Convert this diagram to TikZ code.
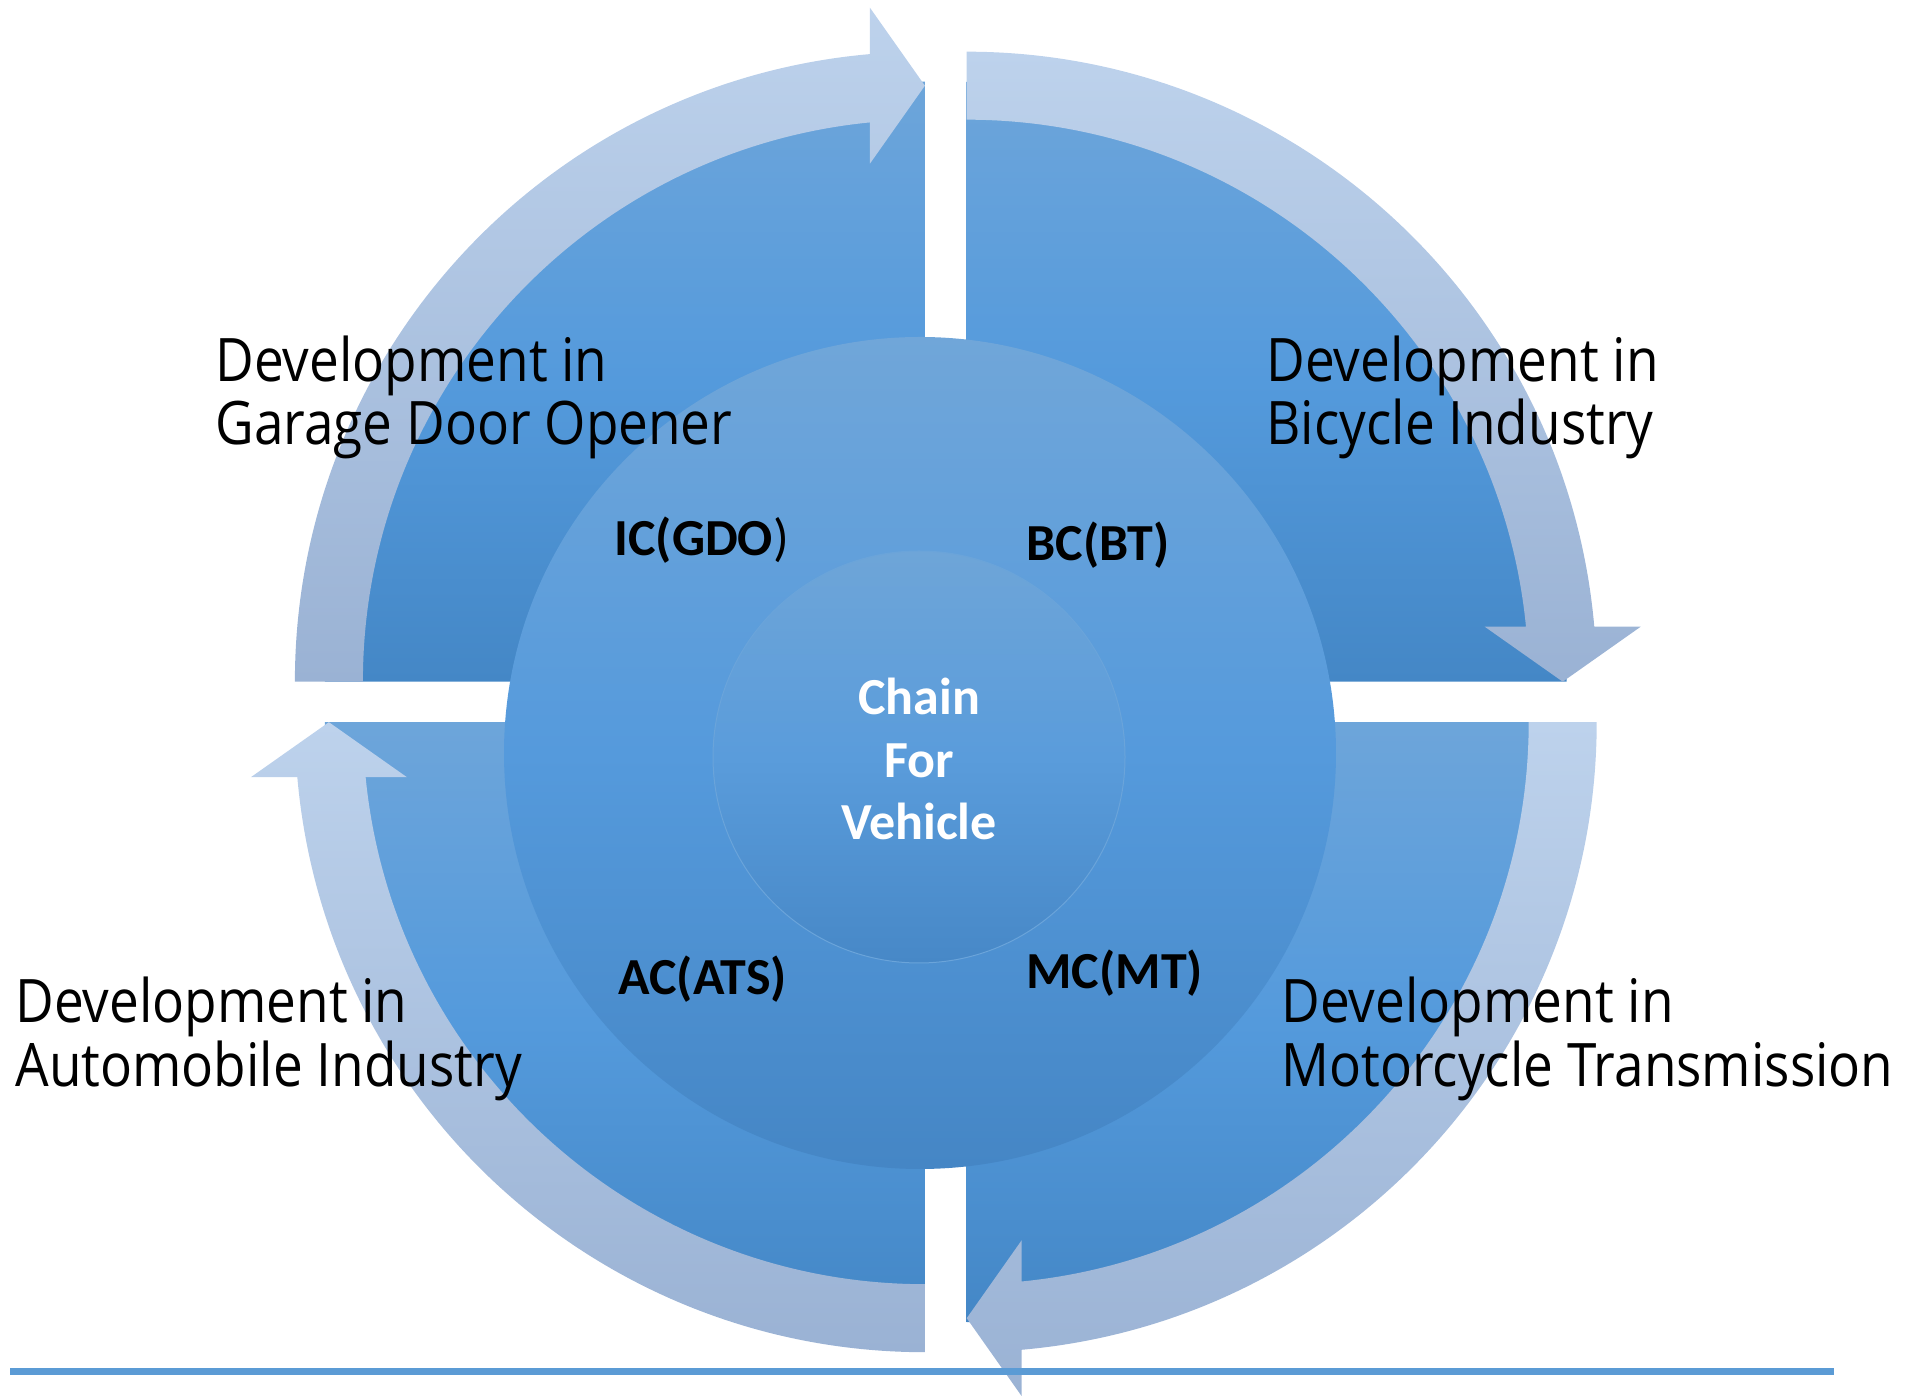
\documentclass[tikz,border=0pt]{standalone}
\usepackage{fontspec}
\setmainfont{Open Sans}
\newfontfamily\carlito{Carlito}
\definecolor{secTop}{HTML}{6DA5DA}
\definecolor{secMid}{HTML}{549ADC}
\definecolor{secBot}{HTML}{4487C6}
\definecolor{ringTop}{HTML}{BDD2EC}
\definecolor{ringBot}{HTML}{9AB2D4}
\definecolor{cirTop}{HTML}{70A6D9}
\definecolor{cirMid}{HTML}{559ADC}
\definecolor{cirBot}{HTML}{4586C5}
\definecolor{inTop}{HTML}{6EA5D8}
\definecolor{inMid}{HTML}{5A9CDB}
\definecolor{inBot}{HTML}{4788C7}
\definecolor{inEdge}{HTML}{6AA4DA}
\definecolor{ruleBlue}{HTML}{5B9BD5}
\begin{document}
\begin{tikzpicture}[x=0.5pt,y=0.5pt,
  sector/.style={top color=secTop, bottom color=secBot, middle color=secMid, draw=none},
  ringarrow/.style={top color=ringTop, bottom color=ringBot, draw=none},
  midcircle/.style={top color=cirTop, bottom color=cirBot, middle color=cirMid, draw=none},
  incircle/.style={top color=inTop, bottom color=inBot, middle color=inMid, draw=inEdge, line width=0.5pt},
  devtext/.style={anchor=base west, inner sep=0pt, font=\fontsize{30}{36}\selectfont},
  boldlbl/.style={anchor=base west, inner sep=0pt, font=\carlito\bfseries\fontsize{26}{31}\selectfont},
  centerlbl/.style={anchor=base, inner sep=0pt, text=white, font=\carlito\bfseries\fontsize{26}{31}\selectfont},
  baserule/.style={draw=ruleBlue, line width=3.5pt}
]
\useasboundingbox (0,0) rectangle (1926,1396);
% corners of the four quadrants
\coordinate (cTL) at (924.9,714.3);
\coordinate (cTR) at (966.7,714.3);
\coordinate (cBR) at (966.7,673.8);
\coordinate (cBL) at (924.9,673.8);
% sectors (partly hidden under the circular arrows)
\begin{scope}[shift={(cTL)}]
  \path[sector] (0,0) -- (180:600) arc[start angle=180,end angle=90,radius=600] -- cycle;
\end{scope}
\begin{scope}[shift={(cTR)}]
  \path[sector] (0,0) -- (90:600) arc[start angle=90,end angle=0,radius=600] -- cycle;
\end{scope}
\begin{scope}[shift={(cBR)}]
  \path[sector] (0,0) -- (0:600) arc[start angle=0,end angle=-90,radius=600] -- cycle;
\end{scope}
\begin{scope}[shift={(cBL)}]
  \path[sector] (0,0) -- (270:600) arc[start angle=270,end angle=180,radius=600] -- cycle;
\end{scope}
% circular arrows
\begin{scope}[shift={(cTL)}]
  \path[ringarrow] (180:630) arc[start angle=180,end angle=95.01,radius=630]
    -- (-55,674) -- (0,596) -- (-55,518) -- (95.62:562)
    arc[start angle=95.62,end angle=180,radius=562] -- cycle;
\end{scope}
\begin{scope}[shift={(cTR)}]
  \path[ringarrow] (90:630) arc[start angle=90,end angle=5.01,radius=630]
    -- (674,55) -- (596,0) -- (518,55) -- (5.62:562)
    arc[start angle=5.62,end angle=90,radius=562] -- cycle;
\end{scope}
\begin{scope}[shift={(cBR)}]
  \path[ringarrow] (0:630) arc[start angle=0,end angle=-84.99,radius=630]
    -- (55,-674) -- (0,-596) -- (55,-518) -- (-84.38:562)
    arc[start angle=-84.38,end angle=0,radius=562] -- cycle;
\end{scope}
\begin{scope}[shift={(cBL)}]
  \path[ringarrow] (270:630) arc[start angle=270,end angle=185.01,radius=630]
    -- (-674,-55) -- (-596,0) -- (-518,-55) -- (185.62:562)
    arc[start angle=185.62,end angle=270,radius=562] -- cycle;
\end{scope}
% circles
\path[midcircle] (920,643) circle[radius=416];
\path[incircle] (919,639) circle[radius=206];
% outer texts
\node[devtext] (tl1) at (215,1014) {\scalebox{0.885}[1]{Development in}};
\node[devtext] (tl2) at (215,951) {\scalebox{0.885}[1]{Garage Door Opener}};
\node[devtext] (tr1) at (1266,1014) {\scalebox{0.885}[1]{Development in}};
\node[devtext] (tr2) at (1266,951) {\scalebox{0.885}[1]{Bicycle Industry}};
\node[devtext] (bl1) at (15,373) {\scalebox{0.885}[1]{Development in}};
\node[devtext] (bl2) at (15,309) {\scalebox{0.885}[1]{Automobile Industry}};
\node[devtext] (br1) at (1281,373) {\scalebox{0.885}[1]{Development in}};
\node[devtext] (br2) at (1281,309) {\scalebox{0.885}[1]{Motorcycle Transmission}};
% inner labels
\node[boldlbl] (ic) at (614,840) {IC(GDO{\mdseries)}};
\node[boldlbl] (bc) at (1026,835) {BC(BT)};
\node[boldlbl] (ac) at (618,401) {AC(ATS)};
\node[boldlbl] (mc) at (1026,407) {MC(MT)};
\node[centerlbl] (chain) at (919,681) {Chain};
\node[centerlbl] (for) at (919,618) {For};
\node[centerlbl] (vehicle) at (919,556) {Vehicle};
% base rule
\coordinate (r1) at (10,24);
\coordinate (r2) at (1834,24);
\draw[baserule] (r1) -- (r2);
\end{tikzpicture}
\end{document}
